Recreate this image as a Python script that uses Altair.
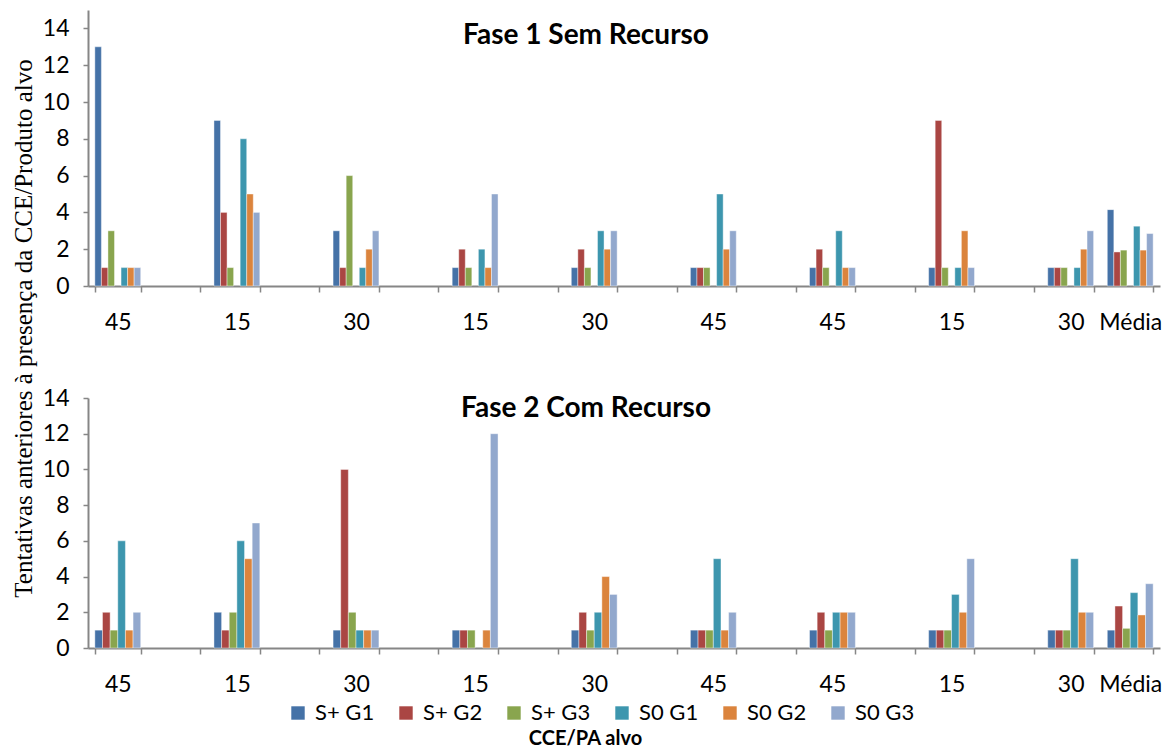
import altair as alt
import pandas as pd

categories = ["45", "15", "30", "15", "30", "45", "45", "15", "30", "Média"]
series = ["S+ G1", "S+ G2", "S+ G3", "S0 G1", "S0 G2", "S0 G3"]
colors = ["#4572A7", "#AA4643", "#89A54E", "#3D96AE", "#DB843D", "#92A8CD"]

# Fase 1 Sem Recurso (values per series, one per category)
f1_sg1 = [13, 9, 3, 1, 1, 1, 1, 1, 1, 4.15]
f1_sg2 = [1, 4, 1, 2, 2, 1, 2, 9, 1, 1.85]
f1_sg3 = [3, 1, 6, 1, 1, 1, 1, 1, 1, 1.95]
f1_s0g1 = [1, 8, 1, 2, 3, 5, 3, 1, 1, 3.25]
f1_s0g2 = [1, 5, 2, 1, 2, 2, 1, 3, 2, 1.95]
f1_s0g3 = [1, 4, 3, 5, 3, 3, 1, 1, 3, 2.85]

# Fase 2 Com Recurso
f2_sg1 = [1, 2, 1, 1, 1, 1, 1, 1, 1, 1.0]
f2_sg2 = [2, 1, 10, 1, 2, 1, 2, 1, 1, 2.35]
f2_sg3 = [1, 2, 2, 1, 1, 1, 1, 1, 1, 1.1]
f2_s0g1 = [6, 6, 1, 0, 2, 5, 2, 3, 5, 3.1]
f2_s0g2 = [1, 5, 1, 1, 4, 1, 2, 2, 2, 1.85]
f2_s0g3 = [2, 7, 1, 12, 3, 2, 2, 5, 2, 3.6]

# category keys: labelled groups separated by blank slots, Média adjacent to last
keys = [f"{c}#{i}" for i, c in enumerate(categories)]
x_domain = []
for i, k in enumerate(keys[:-1]):
    x_domain.append(k)
    if i < len(keys) - 2:
        x_domain.append(f"#b{i}")
x_domain.append(keys[-1])


def frame(cols):
    rows = []
    for s, vals in zip(series, cols):
        for k, v in zip(keys, vals):
            rows.append({"cat": k, "series": s, "value": v})
    return pd.DataFrame(rows)


df1 = frame([f1_sg1, f1_sg2, f1_sg3, f1_s0g1, f1_s0g2, f1_s0g3])
df2 = frame([f2_sg1, f2_sg2, f2_sg3, f2_s0g1, f2_s0g2, f2_s0g3])

FONT = "Lato"
GREY = "#868686"
W = 1072
TICK_FS = 23


def panel(df, title, ymax, height, offset_domain, title_y, show_ytitle, show_xtitle, legend):
    ykw = dict(
        values=list(range(0, 15, 2)), grid=False, domainColor=GREY, domainWidth=2,
        tickColor=GREY, tickSize=5, tickWidth=1.5, labelFont=FONT, labelFontSize=TICK_FS,
        labelColor="#000000", labelPadding=14,
    )
    if show_ytitle:
        yaxis = alt.Axis(
            title="Tentativas anteriores à presença da CCE/Produto alvo",
            titleFont="Liberation Serif", titleFontSize=25, titleFontWeight="normal",
            titleColor="#000000", titleX=-65, titleY=-70, titleAngle=270,
            titleBaseline="middle", titleAlign="center", **ykw,
        )
    else:
        yaxis = alt.Axis(title=None, **ykw)
    xkw = dict(
        labelExpr="datum.value ? split(datum.value, '#')[0] : ''", labelAngle=0,
        tickBand="extent",
        domainColor=GREY, domainWidth=2, tickColor=GREY, tickSize=6, tickWidth=1.5,
        labelFont=FONT, labelFontSize=TICK_FS, labelColor="#000000", labelPadding=19,
    )
    if show_xtitle:
        xaxis = alt.Axis(
            title="CCE/PA alvo", titleFont=FONT, titleFontSize=20, titleFontWeight="bold",
            titleColor="#000000", titleX=497, titleY=90, titleBaseline="middle",
            titleAlign="center", **xkw,
        )
    else:
        xaxis = alt.Axis(title=None, **xkw)

    bars = alt.Chart(df).transform_filter("datum.value > 0").mark_bar(
        stroke="#ffffff", strokeWidth=0.6, strokeOpacity=0.7
    ).encode(
        x=alt.X("cat:N", sort=x_domain,
                scale=alt.Scale(domain=x_domain, paddingInner=0.23, paddingOuter=0.115),
                axis=xaxis),
        xOffset=alt.XOffset("series:N", scale=alt.Scale(domain=offset_domain, paddingInner=0)),
        y=alt.Y("value:Q", scale=alt.Scale(domain=[0, ymax], nice=False), axis=yaxis),
        color=alt.Color("series:N", scale=alt.Scale(domain=series, range=colors), legend=legend),
    )
    ttl = alt.Chart(pd.DataFrame({"t": [title]})).mark_text(
        font=FONT, fontSize=28, fontWeight="bold", color="#000000", baseline="middle"
    ).encode(text="t:N", x=alt.value(498), y=alt.value(title_y))
    return alt.layer(bars, ttl).properties(width=W, height=height)


legend = alt.Legend(
    title=None, orient="none", legendX=199, legendY=692, direction="horizontal",
    columns=6, symbolType="square", symbolSize=180, symbolStrokeWidth=0,
    labelFont=FONT, labelFontSize=22, labelColor="#000000", columnPadding=20,
    labelOffset=6,
)

p1 = panel(df1, "Fase 1 Sem Recurso", 15, 276,
           ["S+ G1", "S+ G2", "S+ G3", "gap", "S0 G1", "S0 G2", "S0 G3"],
           26, False, False, legend)
p2 = panel(df2, "Fase 2 Com Recurso", 14, 250, series, 11, True, True, legend)

chart = alt.vconcat(p1, p2, spacing=112, bounds="flush").resolve_scale(
    xOffset="independent"
).properties(
    background="#ffffff", padding={"left": 10, "top": 10, "right": 5, "bottom": 5}
).configure_view(stroke=None)

chart.save("out.html", embed_options={"renderer": "svg", "actions": False})
